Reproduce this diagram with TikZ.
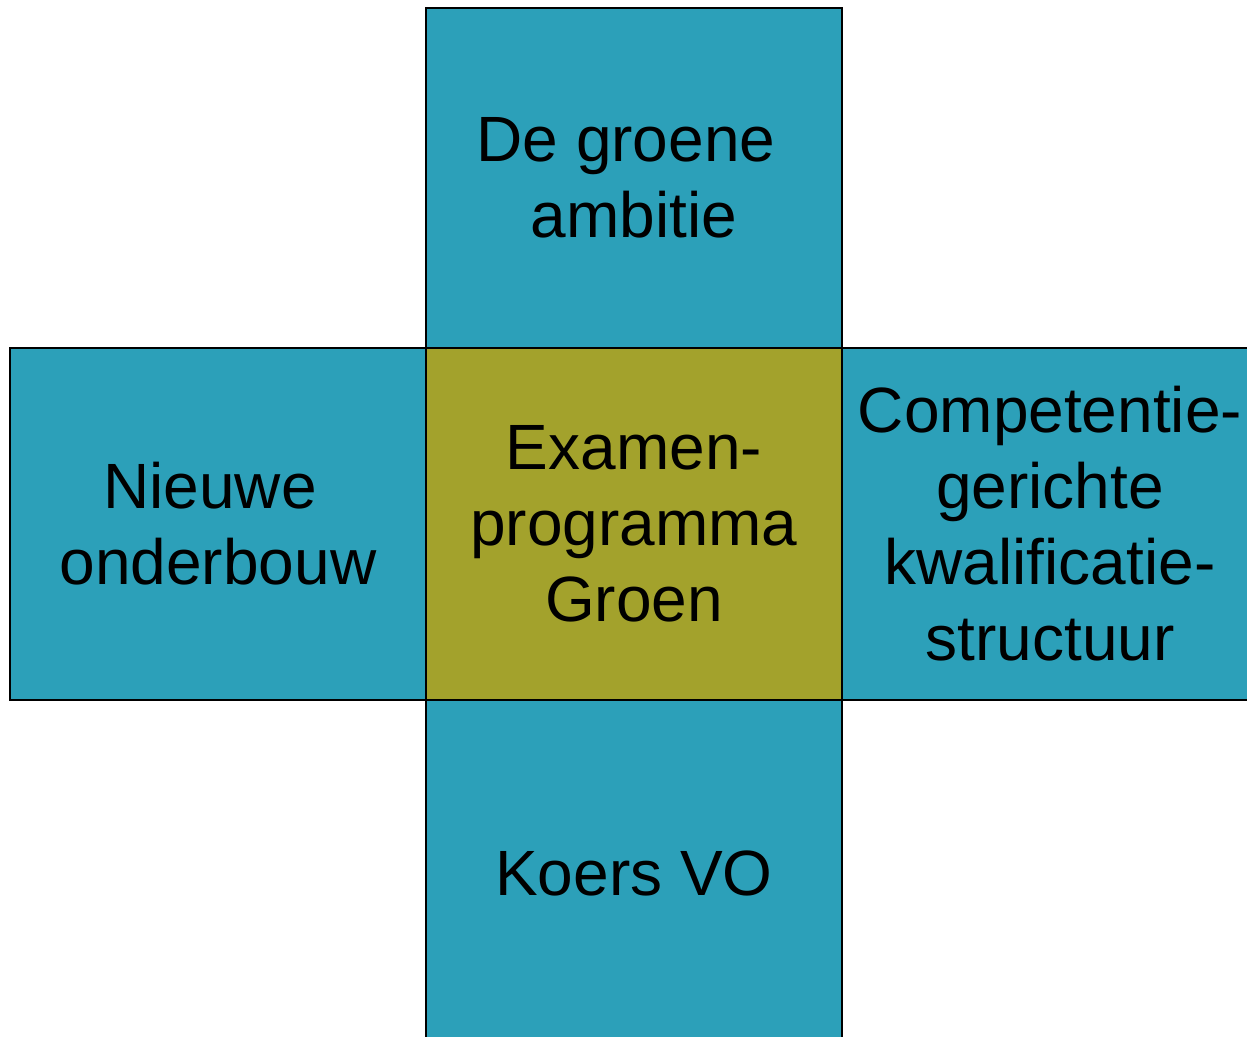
\documentclass[tikz,border=0pt]{standalone}
\usepackage{fontspec}
\setmainfont{Liberation Sans}
\definecolor{teal1}{HTML}{2CA0B9}
\definecolor{olive1}{HTML}{A3A22C}
\tikzset{
  cell/.style={draw=black, line width=1.6pt, minimum width=416pt, minimum height=352pt, inner sep=0pt, align=center, font=\fontsize{64}{76}\selectfont, text=black},
  outer/.style={cell, fill=teal1},
  inner/.style={cell, fill=olive1}
}
\begin{document}
\begin{tikzpicture}[x=1pt,y=-1pt]
\useasboundingbox (0,0) rectangle (1247,1036);
\begin{scope}
\clip (0,0) rectangle (1247,1036);
\node[outer, minimum height=340pt] (top) at (634,178) {De groene\hspace*{16pt}\\ambitie};
\node[outer] (left) at (218,524) {Nieuwe\hspace*{16pt}\\onderbouw};
\node[outer] (right) at (1050,524) {Competentie-\\gerichte\\kwalificatie-\\structuur};
\node[outer] (bottom) at (634,876) {\raisebox{6pt}{Koers VO}};
\node[inner] (center) at (634,524) {Examen-\\programma\\Groen};
\end{scope}
\end{tikzpicture}
\end{document}
